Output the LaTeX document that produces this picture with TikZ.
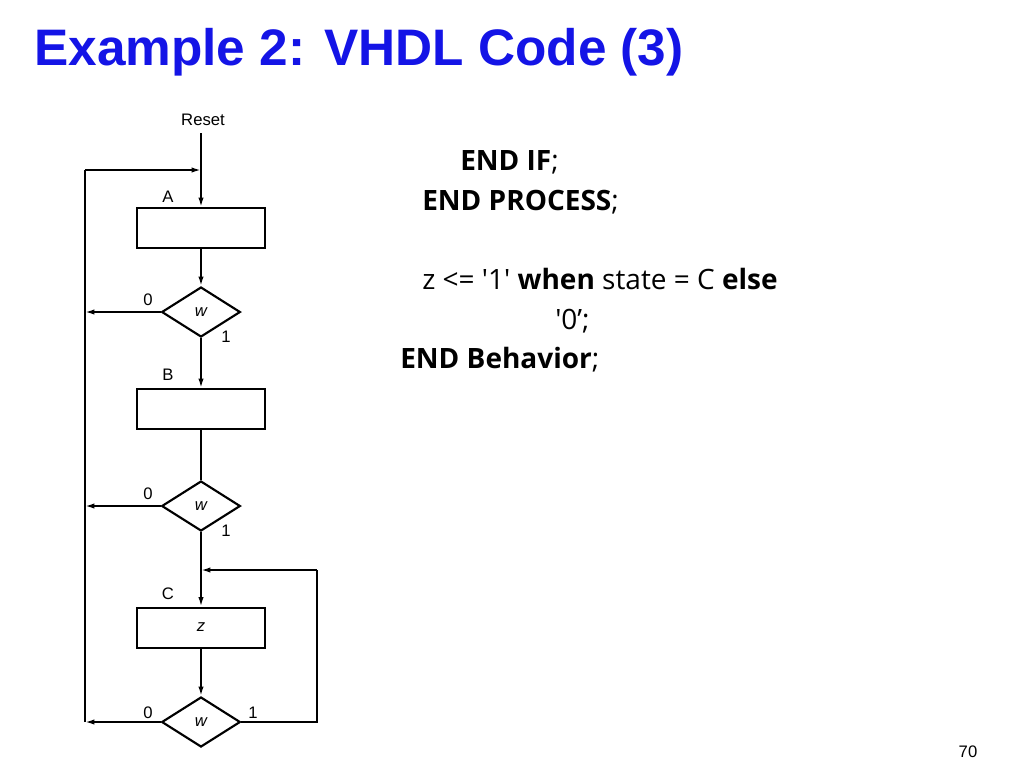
\documentclass[tikz,border=0pt]{standalone}
\usepackage{fontspec}
\setmainfont{Liberation Sans}
\newfontfamily\codefont{Open Sans}
\usetikzlibrary{shapes.geometric,arrows.meta}
\definecolor{titleblue}{RGB}{20,20,230}
\begin{document}
\begin{tikzpicture}[x=0.75pt,y=-0.75pt,
  box/.style={draw,line width=1.5pt,minimum width=96pt,minimum height=30pt,inner sep=0pt},
  dec/.style={draw,line width=1.6pt,diamond,minimum width=59pt,minimum height=37.5pt,inner sep=0pt,aspect=1.6,font=\fontsize{12.5}{14}\selectfont\itshape},
  ln/.style={line width=1.3pt},
  arr/.style={ln,-{Latex[length=7pt,width=4pt]}},
  lab/.style={font=\fontsize{12.5}{14}\selectfont,inner sep=0pt},
  code/.style={font=\codefont\fontsize{21}{24}\selectfont,anchor=base west,inner sep=0pt}]
\useasboundingbox (0,0) rectangle (1024,768);
\node[anchor=west,text=titleblue,font=\bfseries\fontsize{38.5}{40}\selectfont,inner sep=0pt] (title) at (34,52) {Example 2: VHDL Code (3)};
\node[lab] (reset) at (203,120) {Reset};
\node[box] (A) at (201,228) {};
\node[dec] (d1) at (201,312) {w};
\node[box] (B) at (201,409) {};
\node[dec] (d2) at (201,506) {w};
\node[box,font=\fontsize{12.5}{14}\selectfont\itshape] (C) at (201,627.5) {z};
\node[dec] (d3) at (201,722) {w};
\node[lab] (la) at (168,197) {A};
\node[lab] (lb) at (168,375) {B};
\node[lab] (lc) at (168,594) {C};
\node[lab] (z1) at (148,300) {0};
\node[lab] (o1) at (226,337) {1};
\node[lab] (z2) at (148,494) {0};
\node[lab] (o2) at (226,531) {1};
\node[lab] (z3) at (148,713) {0};
\node[lab] (o3) at (253,713) {1};
\coordinate (top) at (201,133);
\coordinate (j1) at (201,170);
\coordinate (j2) at (201,570);
\coordinate (l1) at (85,170);
\coordinate (l2) at (85,312);
\coordinate (l3) at (85,506);
\coordinate (l4) at (85,722);
\coordinate (r1) at (317,570);
\coordinate (r2) at (317,722);
\draw[arr] (top) -- (A.north);
\draw[ln] (l4) -- (l1);
\draw[arr] (l1) -- (j1);
\draw[arr] (A.south) -- (d1.north);
\draw[arr] (d1.west) -- (l2);
\draw[arr] (d1.south) -- (B.north);
\draw[ln] (B.south) -- (d2.north);
\draw[arr] (d2.west) -- (l3);
\draw[arr] (d2.south) -- (C.north);
\draw[arr] (C.south) -- (d3.north);
\draw[arr] (d3.west) -- (l4);
\draw[ln] (d3.east) -- (r2) -- (r1);
\draw[arr] (r1) -- (j2);
\node[code] (c1) at (460,170) {\bfseries END IF\mdseries;};
\node[code] (c2) at (422,210) {\bfseries END PROCESS\mdseries;};
\node[code] (c3) at (422,289) {z <= '1' \textbf{when} state = C \textbf{else}};
\node[code] (c4) at (555,329) {'0’;};
\node[code] (c5) at (400,368) {\bfseries END Behavior\mdseries;};
\node[lab,font=\fontsize{12.5}{14}\selectfont] (pg) at (968,752) {70};
\end{tikzpicture}
\end{document}
